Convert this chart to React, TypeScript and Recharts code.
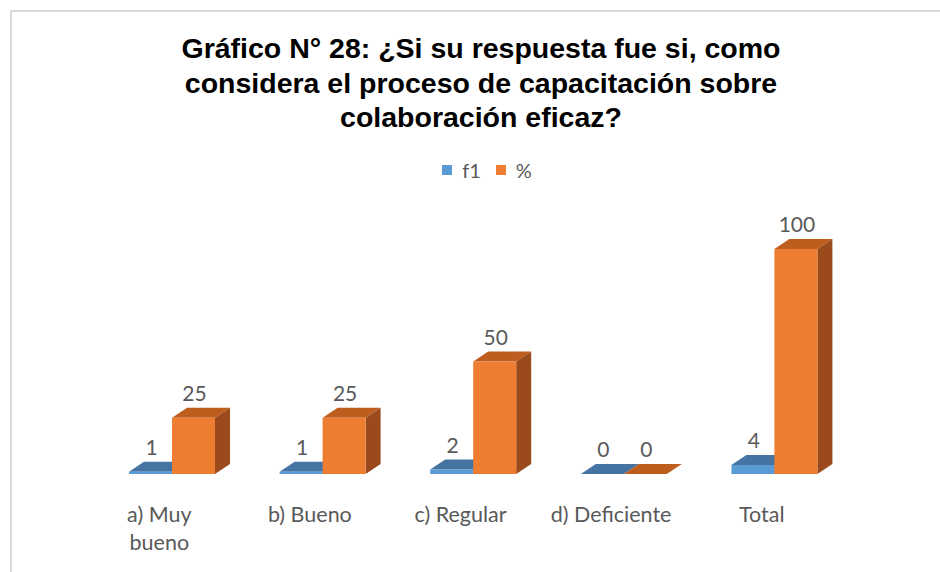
import * as React from 'react';
import { Bar, BarChart, LabelList, Legend, XAxis, YAxis } from 'recharts';

const CATEGORIES = ['a) Muy bueno', 'b) Bueno', 'c) Regular', 'd) Deficiente', 'Total'];
const TICK_LINES: string[][] = [['a) Muy', 'bueno'], ['b) Bueno'], ['c) Regular'], ['d) Deficiente'], ['Total']];
const F1 = [1, 1, 2, 0, 4];
const PCT = [25, 25, 50, 0, 100];

const SERIES = [
  { key: 'f1', name: 'f1', face: '#5B9BD5', top: '#4574A3', side: '#3A6690' },
  { key: 'pct', name: '%', face: '#ED7D31', top: '#BD5E1F', side: '#9B4A1B' },
];

const data = CATEGORIES.map((c, i) => ({ name: c, f1: F1[i], pct: PCT[i] }));

const DX = 15;
const DY = 10;
const LABEL_FONT = 'Lato, "Open Sans", sans-serif';
const GREY = '#595959';

function Box3D(props: any) {
  const { x, y, width, height, face, top, side } = props;
  const yb = y + height;
  return (
    <g>
      <polygon
        points={`${x},${y} ${x + DX},${y - DY} ${x + width + DX},${y - DY} ${x + width},${y}`}
        fill={top}
      />
      <polygon
        points={`${x + width},${y} ${x + width + DX},${y - DY} ${x + width + DX},${yb - DY} ${x + width},${yb}`}
        fill={side}
      />
      <rect x={x} y={y} width={width} height={Math.max(height, 0)} fill={face} />
    </g>
  );
}

function ValueLabel(props: any) {
  const { x, y, width, value } = props;
  return (
    <text
      x={x + width / 2 + 1}
      y={y - 17}
      textAnchor="middle"
      fontFamily={LABEL_FONT}
      fontSize={21}
      fill={GREY}
    >
      {value}
    </text>
  );
}

function CategoryTick(props: any) {
  const { x, y, index } = props;
  const lines = TICK_LINES[index] ?? [String(props.payload?.value)];
  return (
    <g>
      {lines.map((line, i) => (
        <text
          key={line}
          x={x - 13}
          y={y + 40 + i * 28}
          textAnchor="middle"
          fontFamily={LABEL_FONT}
          fontSize={21.5}
          fill={GREY}
        >
          {line}
        </text>
      ))}
    </g>
  );
}

function LegendContent() {
  return (
    <div style={{ display: 'flex', justifyContent: 'center', alignItems: 'center', fontFamily: LABEL_FONT, fontSize: 20, color: GREY }}>
      {SERIES.map((s, i) => (
        <span key={s.key} style={{ display: 'inline-flex', alignItems: 'center', marginLeft: i === 0 ? 0 : 15 }}>
          <span style={{ width: 10, height: 10, background: s.face, display: 'inline-block', marginRight: 10 }} />
          {s.name}
        </span>
      ))}
    </div>
  );
}

const TITLE = [
  'Gráfico N° 28: ¿Si su respuesta fue si, como',
  'considera el proceso de capacitación sobre',
  'colaboración eficaz?',
];

export default function App() {
  return (
    <div style={{ position: 'absolute', left: 0, top: 0, width: 940, height: 572, background: '#fff', overflow: 'hidden' }}>
      <div
        style={{
          position: 'absolute',
          left: 10,
          top: 10,
          width: 960,
          height: 600,
          border: '2px solid #d9d9d9',
        }}
      />
      <div
        style={{
          position: 'absolute',
          left: 0,
          top: 31,
          width: 962,
          textAlign: 'center',
          fontFamily: '"Liberation Sans", Arial, sans-serif',
          fontWeight: 'bold',
          fontSize: 28.5,
          lineHeight: '34.5px',
          color: '#000',
        }}
      >
        {TITLE.map((t) => (
          <div key={t}>{t}</div>
        ))}
      </div>
      <div style={{ position: 'absolute', left: 0, top: 0 }}>
        <BarChart
          width={940}
          height={572}
          data={data}
          margin={{ top: 249, right: 90, bottom: 68, left: 97 }}
          barSize={43}
          barGap={0}
        >
          <XAxis dataKey="name" height={30} axisLine={false} tickLine={false} tick={<CategoryTick />} interval={0} />
          <YAxis hide domain={[0, 100]} />
          <Legend
            verticalAlign="middle"
            align="center"
            content={<LegendContent />}
            wrapperStyle={{ top: 158, left: 0, width: 974 }}
          />
          {SERIES.map((s) => (
            <Bar
              key={s.key}
              dataKey={s.key}
              name={s.name}
              fill={s.face}
              isAnimationActive={false}
              shape={(p: any) => <Box3D {...p} face={s.face} top={s.top} side={s.side} />}
            >
              <LabelList dataKey={s.key} content={<ValueLabel />} />
            </Bar>
          ))}
        </BarChart>
      </div>
    </div>
  );
}
